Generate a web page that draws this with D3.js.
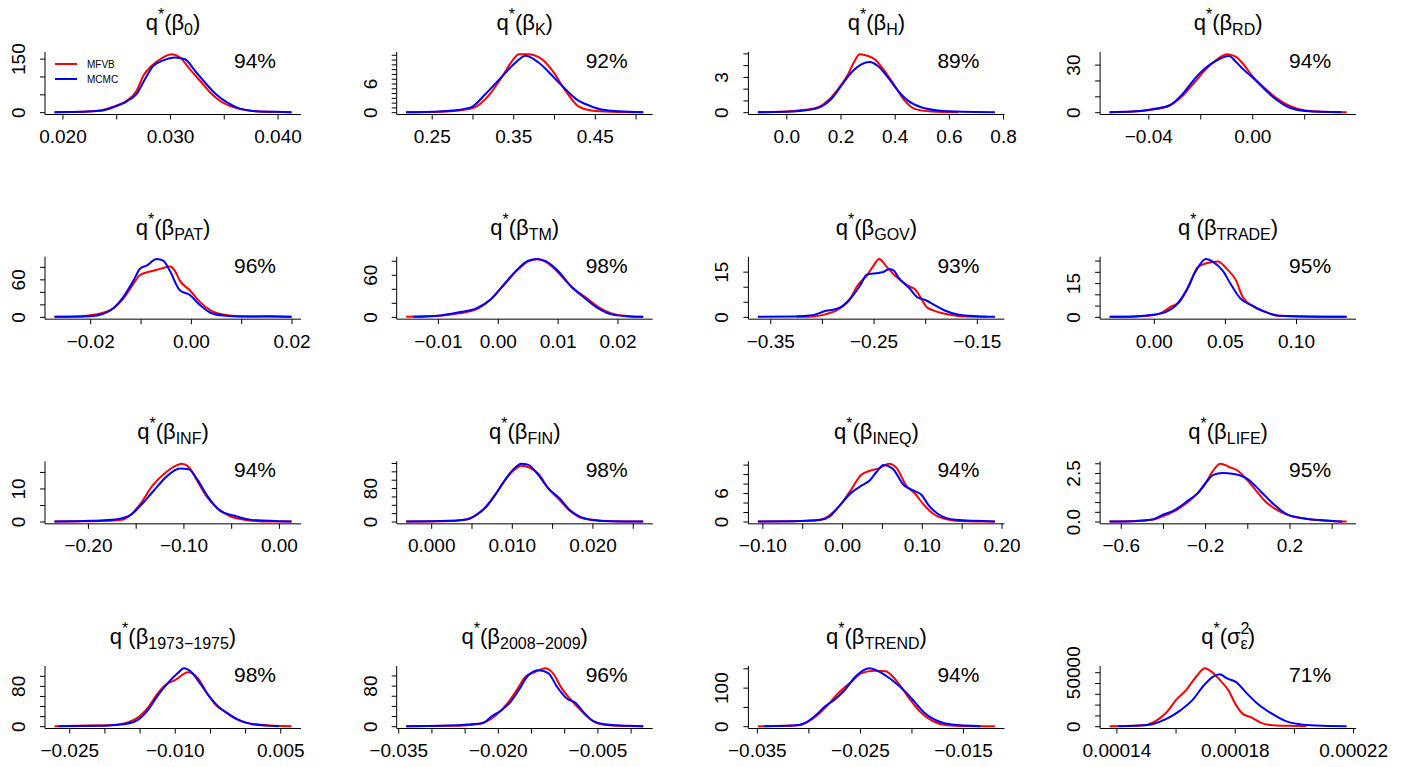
<!DOCTYPE html>
<html><head><meta charset="utf-8">
<script src="https://cdn.jsdelivr.net/npm/d3@7"></script>
<style>
body{margin:0;background:#fff}
svg{display:block}
text{font-family:"Liberation Sans",Arial,Helvetica,sans-serif;fill:#000}
</style>
</head><body>
<svg id="chart" width="1408" height="767"></svg>
<script>
// ---------- panel labels ----------
const subscripts = ["0","K","H","RD","PAT","TM","GOV","TRADE","INF","FIN","INEQ","LIFE","1973\u22121975","2008\u22122009","TREND","SIGMA"];
const percents = ["94%","92%","89%","94%","96%","98%","93%","95%","94%","98%","94%","95%","98%","96%","94%","71%"];
const legendLabels = ["MFVB","MCMC"];

// ---------- x ticks / labelled x ticks ----------
const xTicks = [
  [0.020,0.025,0.030,0.035,0.040],
  [0.25,0.30,0.35,0.40,0.45,0.50],
  [0.0,0.2,0.4,0.6,0.8],
  [-0.04,-0.02,0.00,0.02],
  [-0.02,-0.01,0.00,0.01,0.02],
  [-0.01,0.00,0.01,0.02],
  [-0.35,-0.30,-0.25,-0.20,-0.15],
  [0.00,0.05,0.10],
  [-0.20,-0.15,-0.10,-0.05,0.00],
  [0.000,0.005,0.010,0.015,0.020,0.025],
  [-0.10,-0.05,0.00,0.05,0.10,0.15,0.20],
  [-0.6,-0.4,-0.2,0.0,0.2,0.4],
  [-0.025,-0.020,-0.015,-0.010,-0.005,0.000,0.005],
  [-0.035,-0.030,-0.025,-0.020,-0.015,-0.010,-0.005,0.000],
  [-0.035,-0.030,-0.025,-0.020,-0.015],
  [0.00014,0.00016,0.00018,0.00020,0.00022]
];
const xLabelled = [
  [0.020,0.030,0.040],
  [0.25,0.35,0.45],
  [0.0,0.2,0.4,0.6,0.8],
  [-0.04,0.00],
  [-0.02,0.00,0.02],
  [-0.01,0.00,0.01,0.02],
  [-0.35,-0.25,-0.15],
  [0.00,0.05,0.10],
  [-0.20,-0.10,0.00],
  [0.000,0.010,0.020],
  [-0.10,0.00,0.10,0.20],
  [-0.6,-0.2,0.2],
  [-0.025,-0.010,0.005],
  [-0.035,-0.020,-0.005],
  [-0.035,-0.025,-0.015],
  [0.00014,0.00018,0.00022]
];
const xFormats = [".3f",".2f",".1f",".2f",".2f",".2f",".2f",".2f",".2f",".3f",".2f",".1f",".3f",".3f",".3f",".5f"];

// ---------- y ticks / labelled y ticks ----------
const yTicks = [
  [0,50,100,150],
  [0,1,2,3,4,5,6,7,8,9,10,11,12],
  [0,1,2,3,4,5],
  [0,10,20,30],
  [0,20,40,60,80],
  [0,20,40,60,80],
  [0,5,10,15],
  [0,5,10,15,20,25],
  [0,5,10,15],
  [0,20,40,60,80,100,120,140],
  [0,2,4,6,8,10,12],
  [0,0.5,1,1.5,2,2.5,3],
  [0,20,40,60,80,100],
  [0,20,40,60,80,100],
  [0,50,100,150],
  [0,10000,20000,30000,40000,50000]
];
const yLabelled = [[0,150],[0,6],[0,3],[0,30],[0,60],[0,60],[0,15],[0,15],[0,10],[0,80],[0,6],[0,2.5],[0,80],[0,80],[0,100],[0,50000]];
const yFormats = ["d","d","d","d","d","d","d","d","d","d","d",".1f","d","d","d","d"];

// ---------- density curves (x, density) ----------
const mfvb_b0 = [[0.01926,0],[0.02195,1],[0.0235,4.6],[0.02474,15.7],[0.02598,32],[0.0269,60],[0.02752,102],[0.0283,130],[0.02923,151],[0.03015,162],[0.03093,153],[0.03186,120],[0.03279,88],[0.03372,56],[0.03464,32],[0.03588,14],[0.03743,3.7],[0.03898,1],[0.0413,0]];
const mcmc_b0 = [[0.01926,0],[0.02195,1],[0.0235,3.7],[0.02474,14],[0.02598,30.5],[0.0269,51],[0.02768,93],[0.02845,130],[0.02938,145],[0.03046,153],[0.03139,148],[0.03232,116],[0.03325,83],[0.03418,53],[0.03526,28],[0.0365,10],[0.03805,2.8],[0.0399,1],[0.0413,0]];

const mfvb_K = [[0.2187,0],[0.26,0.1],[0.29,0.5],[0.305,1.2],[0.32,3.5],[0.337,7.6],[0.349,10.8],[0.357,12.1],[0.368,12.1],[0.385,11.1],[0.398,8.7],[0.414,4.5],[0.43,1.2],[0.446,0.35],[0.47,0.1],[0.5094,0]];
const mcmc_K = [[0.2187,0],[0.26,0.15],[0.2756,0.35],[0.298,1.0],[0.316,3.8],[0.337,7.6],[0.353,10.4],[0.365,11.8],[0.381,10.4],[0.402,6.9],[0.43,2.4],[0.446,1.2],[0.46,0.5],[0.48,0.2],[0.5094,0]];

const mfvb_H = [[-0.105,0],[0.0,0.05],[0.068,0.2],[0.117,0.42],[0.154,1.0],[0.191,1.97],[0.228,3.23],[0.252,4.35],[0.271,4.92],[0.302,4.78],[0.326,4.5],[0.363,3.5],[0.4,2.25],[0.437,0.98],[0.474,0.28],[0.535,0.06],[0.634,0]];
const mcmc_H = [[-0.105,0],[0.0,0.03],[0.092,0.22],[0.129,0.48],[0.166,1.12],[0.203,2.25],[0.24,3.37],[0.277,4.07],[0.308,4.27],[0.338,3.93],[0.375,2.95],[0.412,1.83],[0.449,0.98],[0.498,0.42],[0.56,0.14],[0.65,0.03],[0.77,0]];

const mfvb_RD = [[-0.0549,0],[-0.046,0.4],[-0.0383,1.7],[-0.0319,4.2],[-0.0268,10.4],[-0.0217,19.8],[-0.0179,27],[-0.014,32.7],[-0.0096,36.5],[-0.0064,35],[-0.0038,31],[0.0,22.9],[0.0038,16.7],[0.0089,9.4],[0.014,4.2],[0.0204,1],[0.0268,0.2],[0.0363,0]];
const mcmc_RD = [[-0.0549,0],[-0.046,0.4],[-0.0383,1.9],[-0.0319,4.2],[-0.0268,11.5],[-0.0217,21.9],[-0.0179,28],[-0.014,32.3],[-0.0089,35.4],[-0.0064,32],[-0.0038,27.5],[-0.0006,23],[0.0038,16],[0.0089,8.3],[0.014,3.1],[0.0204,0.8],[0.0344,0]];

const mfvb_PAT = [[-0.0271,0],[-0.0227,0.5],[-0.02,2.6],[-0.0174,6.8],[-0.0154,13.7],[-0.0134,29.5],[-0.0114,53],[-0.0101,67],[-0.0081,72.6],[-0.0061,76.8],[-0.0042,80.5],[-0.0032,74],[-0.0022,58],[-0.0002,42.6],[0.0018,24],[0.0038,11],[0.0064,3.7],[0.0097,1],[0.015,0.5],[0.02,0]];
const mcmc_PAT = [[-0.0271,0],[-0.02,1],[-0.0174,4.7],[-0.0154,13.7],[-0.0134,32],[-0.0114,58],[-0.0101,77],[-0.0088,82],[-0.0068,92.6],[-0.0055,90],[-0.0042,74],[-0.0022,42.6],[-0.0002,35],[0.0018,19],[0.0038,7],[0.0064,2],[0.0097,0.5],[0.0157,1],[0.02,0]];

const mfvb_TM = [[-0.0153,0],[-0.0096,1.5],[-0.0065,5],[-0.0035,11],[-0.0013,24],[0.001,45],[0.0032,66],[0.0051,79],[0.0066,82],[0.0081,78],[0.01,64],[0.0123,43],[0.0145,29],[0.0168,14],[0.019,5],[0.022,1],[0.0243,0]];
const mcmc_TM = [[-0.0141,0],[-0.0096,2],[-0.0065,6.5],[-0.0035,12.5],[-0.0013,24],[0.001,46],[0.0032,67],[0.0051,80],[0.0066,82.5],[0.0081,79],[0.01,66],[0.0123,43],[0.0145,27],[0.0168,12],[0.019,3.5],[0.022,0.5],[0.0243,0]];

const mfvb_GOV = [[-0.3245,0],[-0.309,0.1],[-0.296,0.9],[-0.2872,1.9],[-0.2806,3.3],[-0.274,5.3],[-0.2654,10.4],[-0.2566,13.7],[-0.25,17],[-0.2447,19.2],[-0.2368,16.4],[-0.2302,14],[-0.2214,11.5],[-0.2148,10],[-0.2104,9.3],[-0.2037,6],[-0.1993,3.5],[-0.1927,2.2],[-0.1773,0.8],[-0.1597,0.1],[-0.14,0]];
const mcmc_GOV = [[-0.362,0],[-0.327,0.1],[-0.309,0.5],[-0.296,2],[-0.2872,2.5],[-0.2806,3.5],[-0.274,5.5],[-0.263,10.4],[-0.2566,14],[-0.2478,14.5],[-0.2412,14.8],[-0.2346,15.9],[-0.2302,15.3],[-0.2258,13],[-0.2148,9.3],[-0.2081,6.6],[-0.1993,5.5],[-0.1905,3.8],[-0.1817,2.2],[-0.1685,0.8],[-0.15,0.2],[-0.1325,0]];

const mfvb_TRADE = [[-0.0311,0],[-0.0137,0.15],[-0.001,0.7],[0.0054,1.8],[0.0117,4.4],[0.0181,6.6],[0.0244,13.2],[0.0308,22],[0.0371,23.8],[0.0451,24.6],[0.0514,21.3],[0.0578,16.2],[0.0625,8.8],[0.0705,4.4],[0.0784,2.2],[0.0879,0.45],[0.11,0],[0.1356,0]];
const mcmc_TRADE = [[-0.0311,0],[-0.0137,0.2],[-0.001,0.9],[0.0086,2.2],[0.0149,4.7],[0.0229,11.8],[0.0292,19.9],[0.0365,25.7],[0.0419,24.3],[0.0483,20.6],[0.0546,14],[0.061,8.1],[0.0689,5.1],[0.0784,2.2],[0.0879,0.45],[0.12,0.05],[0.1356,0]];

const mfvb_INF = [[-0.235,0],[-0.1976,0.1],[-0.174,0.3],[-0.1647,0.5],[-0.1553,2],[-0.1459,5],[-0.132,11],[-0.1179,15],[-0.1085,16.8],[-0.1014,17.5],[-0.0944,16.5],[-0.085,12],[-0.0755,7.5],[-0.0661,4.5],[-0.052,1.7],[-0.0332,0.4],[-0.0094,0],[0.0132,0]];
const mcmc_INF = [[-0.235,0],[-0.1976,0.2],[-0.1694,0.7],[-0.1553,2],[-0.1459,4.5],[-0.132,9],[-0.1179,13.5],[-0.1038,16],[-0.0944,15.8],[-0.085,12.5],[-0.0755,8],[-0.0614,3.2],[-0.0473,1.8],[-0.0285,0.5],[0.0132,0]];

const mfvb_FIN = [[-0.0031,0],[0.0011,0.8],[0.0034,2.4],[0.0045,5.6],[0.0056,16],[0.0067,32],[0.0078,60],[0.0089,92],[0.0101,120],[0.0112,133.6],[0.0123,128],[0.0134,112],[0.0145,80],[0.0159,52],[0.0173,24],[0.0185,9.6],[0.0201,4],[0.0224,0.8],[0.0263,0]];
const mcmc_FIN = [[-0.0031,0],[0.0022,1.6],[0.0045,5.6],[0.0056,16],[0.0067,33.6],[0.0078,60],[0.0089,92],[0.0101,123],[0.0112,138.4],[0.012,136],[0.0131,116],[0.0145,80],[0.0159,56],[0.0173,25.6],[0.0185,11],[0.0201,3.2],[0.0224,0.8],[0.0263,0]];

const mfvb_INEQ = [[-0.1056,0],[-0.0609,0.07],[-0.0327,0.2],[-0.0214,0.7],[-0.0101,2.1],[0.0011,4.2],[0.0124,7],[0.0237,9.8],[0.0349,10.7],[0.0462,11.2],[0.0586,12.2],[0.0688,11.2],[0.08,7.7],[0.0913,5.9],[0.1026,3.5],[0.1139,1.7],[0.1308,0.5],[0.1533,0.07],[0.1917,0]];
const mcmc_INEQ = [[-0.1056,0],[-0.0609,0.07],[-0.027,0.35],[-0.0158,1],[-0.0045,3.1],[0.0124,6.2],[0.0237,7.5],[0.0349,8.7],[0.0434,10.5],[0.0519,11.9],[0.0631,11.2],[0.0772,7.7],[0.0913,6.4],[0.0998,5.6],[0.1082,3.5],[0.1195,1.7],[0.142,0.35],[0.1917,0]];

const mfvb_LIFE = [[-0.653,0],[-0.535,0.03],[-0.45,0.09],[-0.407,0.24],[-0.343,0.55],[-0.278,1.03],[-0.236,1.45],[-0.203,1.87],[-0.171,2.47],[-0.128,2.98],[-0.086,2.81],[-0.043,2.6],[0.0,2.13],[0.043,1.57],[0.086,1.03],[0.128,0.68],[0.193,0.34],[0.278,0.14],[0.407,0.02],[0.471,0]];
const mcmc_LIFE = [[-0.653,0],[-0.535,0.02],[-0.45,0.1],[-0.407,0.31],[-0.343,0.6],[-0.278,1.1],[-0.236,1.45],[-0.193,2.05],[-0.161,2.4],[-0.118,2.5],[-0.064,2.45],[0.0,2.2],[0.064,1.55],[0.128,0.86],[0.193,0.34],[0.278,0.14],[0.407,0.03],[0.45,0]];

const mfvb_7375 = [[-0.0271,0],[-0.022,1.3],[-0.0188,2.6],[-0.0169,6.6],[-0.015,19.7],[-0.0137,39],[-0.0125,63.6],[-0.0112,83],[-0.0099,92],[-0.0081,107],[-0.0067,95],[-0.0054,65.6],[-0.0042,42.6],[-0.0029,29.5],[-0.0016,16.4],[0.0003,6.6],[0.0035,1.3],[0.0066,0]];
const mcmc_7375 = [[-0.0265,0],[-0.0208,0.7],[-0.0176,3.3],[-0.0156,9.8],[-0.0137,34],[-0.0125,59],[-0.0109,87],[-0.0096,105],[-0.0087,114.8],[-0.0077,108],[-0.0064,85],[-0.0051,59],[-0.0035,35],[-0.0022,23],[-0.001,13],[0.001,3.9],[0.0048,0]];

const mfvb_0809 = [[-0.0338,0],[-0.0273,0.65],[-0.0246,2],[-0.0226,5.2],[-0.0212,13],[-0.0199,26],[-0.0185,46],[-0.0171,72],[-0.0158,98],[-0.0144,106.5],[-0.0129,114],[-0.0117,104.6],[-0.0104,75],[-0.009,52],[-0.0076,32.7],[-0.0063,16.3],[-0.0049,5.2],[-0.0029,1.3],[0.0019,0]];
const mcmc_0809 = [[-0.0338,0],[-0.0273,1.3],[-0.0246,3.3],[-0.0222,6.5],[-0.0209,19.6],[-0.0195,31],[-0.0182,46],[-0.0168,72],[-0.0155,99],[-0.0138,110],[-0.0124,104.6],[-0.0111,78],[-0.0097,55.5],[-0.0083,46],[-0.007,26],[-0.0056,9.8],[-0.0036,3.3],[-0.0002,0.7],[0.0019,0]];

const mfvb_TREND = [[-0.0349,0],[-0.0314,1.7],[-0.0306,4.3],[-0.0297,17],[-0.0284,47],[-0.0271,85.5],[-0.0257,118],[-0.0249,137],[-0.0236,143.6],[-0.0225,142.7],[-0.0218,128],[-0.0209,98],[-0.0201,68],[-0.0192,38.5],[-0.0179,12.8],[-0.0166,2.6],[-0.014,0],[-0.0119,0]];
const mcmc_TREND = [[-0.0343,0],[-0.0314,1.7],[-0.0303,8.5],[-0.0292,30],[-0.0284,51],[-0.0275,68],[-0.0266,90],[-0.0253,132],[-0.0241,150],[-0.0231,141],[-0.0218,118],[-0.0205,87],[-0.0196,60],[-0.0188,36],[-0.0174,12.8],[-0.0161,4.3],[-0.0133,0]];

const mfvb_sig = [[0.0001377,0],[0.0001456,300],[0.0001501,1200],[0.0001535,5150],[0.0001569,12700],[0.0001603,24800],[0.0001637,33900],[0.000167,46000],[0.0001699,53600],[0.0001721,50600],[0.0001749,43000],[0.0001777,33900],[0.0001806,18800],[0.0001828,11200],[0.0001856,8200],[0.0001885,3600],[0.0001918,1200],[0.0001986,300],[0.0002042,0]];
const mcmc_sig = [[0.0001406,0],[0.0001479,600],[0.0001524,2100],[0.0001569,6700],[0.0001614,14200],[0.0001659,24800],[0.0001693,37000],[0.0001727,46000],[0.0001749,48200],[0.0001772,44500],[0.0001806,40600],[0.0001839,30900],[0.0001873,21800],[0.0001907,14800],[0.0001941,9100],[0.0001975,4500],[0.000202,1800],[0.0002076,600],[0.0002178,0]];

const mfvbCurves = [mfvb_b0,mfvb_K,mfvb_H,mfvb_RD,mfvb_PAT,mfvb_TM,mfvb_GOV,mfvb_TRADE,mfvb_INF,mfvb_FIN,mfvb_INEQ,mfvb_LIFE,mfvb_7375,mfvb_0809,mfvb_TREND,mfvb_sig];
const mcmcCurves = [mcmc_b0,mcmc_K,mcmc_H,mcmc_RD,mcmc_PAT,mcmc_TM,mcmc_GOV,mcmc_TRADE,mcmc_INF,mcmc_FIN,mcmc_INEQ,mcmc_LIFE,mcmc_7375,mcmc_0809,mcmc_TREND,mcmc_sig];

// ---------- drawing ----------
const svg = d3.select("#chart");
const W = 256, H = 62.5;
const RED = "#ff0000", BLUE = "#0000ff";
const TICKFONT = 19, TITLEFONT = 22, SCRIPTFONT = 16, PCTFONT = 21;
const near = (arr, v) => arr.some(a => Math.abs(a - v) < 1e-12);

subscripts.forEach((sub, i) => {
  const r = Math.floor(i / 4), c = i % 4;
  const left = 45 + c * 351.7, top = 52 + r * 204.67;
  const all = mfvbCurves[i].concat(mcmcCurves[i]);
  const xe = d3.extent(all, d => d[0]);
  const span = xe[1] - xe[0];
  const x = d3.scaleLinear().domain([xe[0] - 0.04 * span, xe[1] + 0.04 * span]).range([left, left + W]);
  const ym = d3.max(all, d => d[1]);
  const y = d3.scaleLinear().domain([-0.04 * ym, 1.04 * ym]).range([top + H, top]);
  const g = svg.append("g");

  // L-shaped box
  g.append("path")
    .attr("d", `M${left},${top}V${top + H}H${left + W}`)
    .attr("fill", "none").attr("stroke", "#000").attr("stroke-width", 1);

  // x axis
  const xf = d3.format(xFormats[i]);
  const xa = g.append("g").attr("transform", `translate(0,${top + H})`)
    .call(d3.axisBottom(x).tickValues(xTicks[i]).tickSize(5).tickPadding(10)
      .tickFormat(v => near(xLabelled[i], v) ? xf(v) : ""));
  xa.select(".domain").remove();
  xa.selectAll(".tick line").attr("stroke", "#000");
  xa.selectAll(".tick text").style("font-size", TICKFONT + "px").attr("fill", "#000");

  // y axis
  const yf = d3.format(yFormats[i]);
  const ya = g.append("g").attr("transform", `translate(${left},0)`)
    .call(d3.axisLeft(y).tickValues(yTicks[i]).tickSize(5)
      .tickFormat(v => near(yLabelled[i], v) ? yf(v) : ""));
  ya.select(".domain").remove();
  ya.selectAll(".tick line").attr("stroke", "#000");
  ya.selectAll(".tick text")
    .attr("x", 0).attr("y", -20).attr("dy", 0)
    .attr("transform", "rotate(-90)")
    .attr("text-anchor", "middle")
    .style("font-size", TICKFONT + "px").attr("fill", "#000");

  // curves
  const line = d3.line().x(d => x(d[0])).y(d => y(d[1])).curve(d3.curveMonotoneX);
  g.append("path").datum(mfvbCurves[i]).attr("d", line)
    .attr("fill", "none").attr("stroke", RED).attr("stroke-width", 2).attr("stroke-linejoin", "round");
  g.append("path").datum(mcmcCurves[i]).attr("d", line)
    .attr("fill", "none").attr("stroke", BLUE).attr("stroke-width", 2).attr("stroke-linejoin", "round");

  // percentage
  g.append("text").attr("x", left + 210).attr("y", top + 16)
    .attr("text-anchor", "middle").style("font-size", PCTFONT + "px").text(percents[i]);

  // title q*(beta_sub)
  const t = g.append("text").attr("x", left + W / 2).attr("y", top - 22)
    .attr("text-anchor", "middle").style("font-size", TITLEFONT + "px");
  t.append("tspan").text("q");
  t.append("tspan").attr("dy", -10).style("font-size", SCRIPTFONT + "px").text("*");
  t.append("tspan").attr("dy", 10).text("(");
  if (sub === "SIGMA") {
    t.append("tspan").text("\u03c3");
    t.append("tspan").attr("dy", -10).style("font-size", SCRIPTFONT + "px").text("2");
    t.append("tspan").attr("dx", -8.9).attr("dy", 15).style("font-size", SCRIPTFONT + "px").text("\u03b5");
    t.append("tspan").attr("dy", -5).text(")");
  } else {
    t.append("tspan").text("\u03b2");
    t.append("tspan").attr("dy", 5).style("font-size", SCRIPTFONT + "px").text(sub);
    t.append("tspan").attr("dy", -5).text(")");
  }

  // legend in first panel
  if (i === 0) {
    [RED, BLUE].forEach((col, k) => {
      const ly = top + 12 + k * 15;
      g.append("line").attr("x1", left + 10).attr("x2", left + 32).attr("y1", ly).attr("y2", ly)
        .attr("stroke", col).attr("stroke-width", 2);
      g.append("text").attr("x", left + 42).attr("y", ly + 3.5)
        .style("font-size", "10px").text(legendLabels[k]);
    });
  }
});
</script>
</body></html>
